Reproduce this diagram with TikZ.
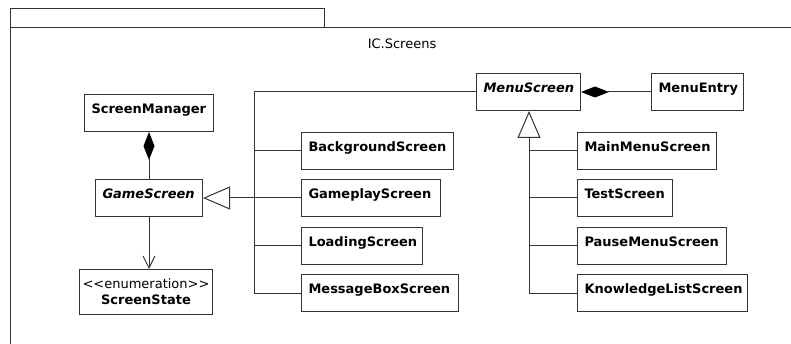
\documentclass[tikz,border=0pt]{standalone}
\usepackage{fontspec}
\setmainfont{DejaVu Sans}
\usetikzlibrary{arrows.meta}
\definecolor{linegray}{HTML}{333333}
\begin{document}
\begin{tikzpicture}[x=1pt,y=-1pt,line width=1pt,draw=linegray,
  txt/.style={font=\fontsize{13}{17}\selectfont},
  cls/.style={draw=linegray,anchor=north west,inner xsep=7pt,inner ysep=0pt,
    text width=#1pt,align=left,text height=19pt,text depth=18pt,
    font=\fontsize{13}{17}\selectfont\bfseries},
  abst/.style={cls=#1,font=\fontsize{13}{17}\selectfont\bfseries\itshape},
  compose/.style={{Diamond[length=28pt,width=11pt,color=black,fill=black]}-},
  inherit/.style={-{Triangle[open,length=27pt,width=23pt]}},
  assoc/.style={-{Straight Barb[length=12pt,width=12pt]}}]
\useasboundingbox (0,0) rectangle (791,344);
\clip (0,0) rectangle (791,344);
% package frame with its tab
\draw (10,28) -- (10,9) -- (324,9) -- (324,28);
\draw (10,350) -- (10,28) -- (800,28);
\node[txt] (pkg) at (402,44) {IC.Screens};

% classes
\node[cls=115] (sm) at (84,94) {ScreenManager};
\node[abst=93] (gs) at (95,179) {GameScreen};
\node[draw=linegray,anchor=north west,minimum width=133pt,minimum height=45pt,
  inner sep=0pt,align=center,txt] (ss) at (79,269)
  {<{}<enumeration>{}>\\[-1pt]\textbf{ScreenState}};
\node[cls=138] (bg) at (301,132) {BackgroundScreen};
\node[cls=125] (gp) at (301,179) {GameplayScreen};
\node[cls=107] (ld) at (301,227) {LoadingScreen};
\node[cls=143] (mb) at (301,274) {MessageBoxScreen};
\node[abst=90] (ms) at (476,73) {MenuScreen};
\node[cls=78] (me) at (651,73) {MenuEntry};
\node[cls=125] (mm) at (577,132) {MainMenuScreen};
\node[cls=81] (ts) at (577,179) {TestScreen};
\node[cls=135] (pm) at (577,227) {PauseMenuScreen};
\node[cls=156] (kl) at (577,274) {KnowledgeListScreen};

% vertical buses of the two hierarchies
\coordinate (bus) at (254,0);
\coordinate (mbus) at (529,0);

% compositions
\draw[compose] (sm.south) -- (gs.north);
\draw[compose] (ms.east) -- (me.west);

% association to the enumeration
\draw[assoc] (gs.south) -- (gs.south |- ss.north);

% GameScreen hierarchy
\draw[inherit] (gp.west) -- (gs.east);
\draw (ms.west) -- (ms.west -| bus) -- (mb.west -| bus) -- (mb.west);
\draw (bg.west -| bus) -- (bg.west);
\draw (ld.west -| bus) -- (ld.west);

% MenuScreen hierarchy
\draw[inherit] (kl.west) -- (kl.west -| mbus) -- (mbus |- ms.south);
\draw (mm.west -| mbus) -- (mm.west);
\draw (ts.west -| mbus) -- (ts.west);
\draw (pm.west -| mbus) -- (pm.west);
\end{tikzpicture}
\end{document}
